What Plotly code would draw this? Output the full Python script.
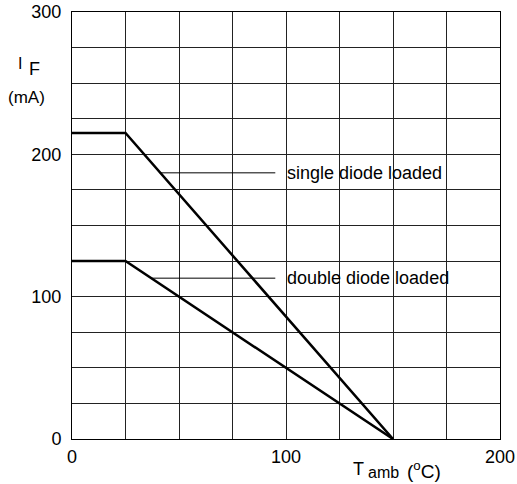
import plotly.graph_objects as go

# Data
single_x = [0, 25, 150]
single_y = [215, 215, 0]
double_x = [0, 25, 150]
double_y = [125, 125, 0]

label_text = ["single diode loaded", "double diode loaded"]
label_y = [187, 113]
leader_x0 = [41, 37]
leader_x1 = [95, 95]
label_x = [99.5, 99.5]

x_tickvals = list(range(0, 201, 25))
x_ticktext = ["0", "", "", "", "100", "", "", "", "200"]
y_tickvals = list(range(0, 301, 25))
y_ticktext = ["0", "", "", "", "100", "", "", "", "200", "", "", "", "300"]

FONT = "Liberation Sans, Arial, sans-serif"
FS = 18

fig = go.Figure()
fig.add_trace(go.Scatter(x=single_x, y=single_y, mode="lines",
                         line=dict(color="black", width=2.5), showlegend=False))
fig.add_trace(go.Scatter(x=double_x, y=double_y, mode="lines",
                         line=dict(color="black", width=2.5), showlegend=False))
for t, y, x0, x1, xl in zip(label_text, label_y, leader_x0, leader_x1, label_x):
    fig.add_trace(go.Scatter(x=[x0, x1], y=[y, y], mode="lines",
                             line=dict(color="black", width=1), showlegend=False))
    fig.add_annotation(x=xl, y=y, text=t, showarrow=False, xanchor="left",
                       yanchor="middle", font=dict(size=FS, color="black", family=FONT))

def note(x, y, text, size=FS, xanchor="center"):
    fig.add_annotation(xref="paper", yref="paper", x=x, y=y, text=text,
                       showarrow=False, xanchor=xanchor, yanchor="middle",
                       font=dict(size=size, color="black", family=FONT))

note(-0.1215, 0.880, "I", FS - 2)
note(-0.0876, 0.8665, "F", FS)
note(-0.107, 0.800, "(mA)", FS - 1)
note(0.651, -0.0714, "T", FS, "left")
note(0.686, -0.0773, "amb", FS - 2, "left")
note(0.779, -0.0726, "(<sup>o</sup>C)", FS + 1, "left")

fig.update_layout(
    width=517, height=484,
    margin=dict(l=72, r=17, t=12, b=45, autoexpand=False),
    plot_bgcolor="white", paper_bgcolor="white",
    font=dict(family=FONT, size=FS, color="black"),
    xaxis=dict(range=[0, 200], tickvals=x_tickvals, ticktext=x_ticktext,
               showgrid=True, gridcolor="#222222", gridwidth=1,
               showline=True, linecolor="black", linewidth=1, mirror=True,
               zeroline=False, ticks="", ticklabelstandoff=1, automargin=False,
               ticklabeloverflow="allow"),
    yaxis=dict(range=[0, 300], tickvals=y_tickvals, ticktext=y_ticktext,
               showgrid=True, gridcolor="#222222", gridwidth=1,
               showline=True, linecolor="black", linewidth=1, mirror=True,
               zeroline=False, ticks="", ticklabelstandoff=6, automargin=False,
               ticklabeloverflow="allow"),
)

# remove the browser's default 8px body margin so the figure fills the window
fig.write_html("out.html", config={"displayModeBar": False},
               post_script="document.body.style.margin='0';document.body.style.overflow='hidden';")
